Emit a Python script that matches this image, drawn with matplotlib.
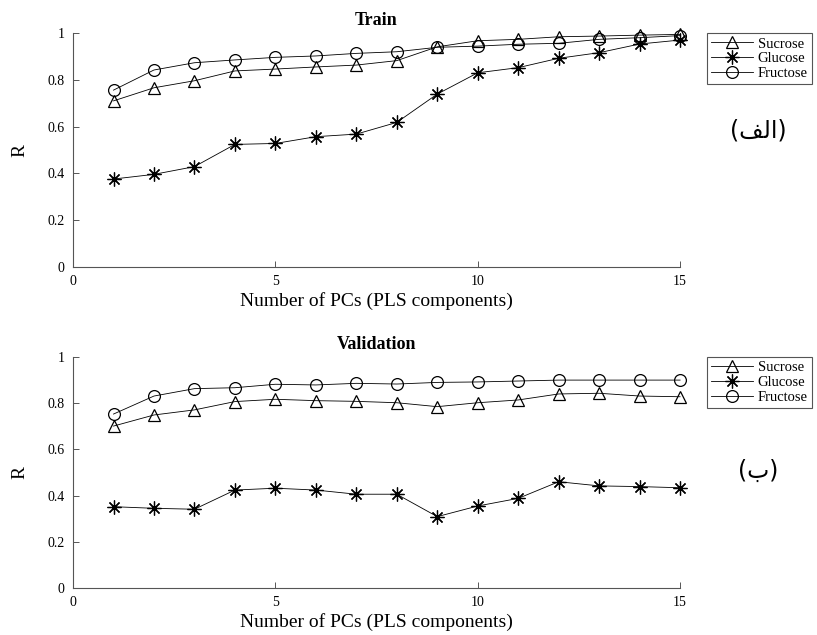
import matplotlib
matplotlib.use('Agg')
import matplotlib.pyplot as plt
from matplotlib.ticker import FuncFormatter

# number of PLS components
pcs = list(range(1, 16))

# Train
train_sucrose = [0.710, 0.766, 0.796, 0.838, 0.846, 0.855, 0.863, 0.882,
                 0.941, 0.967, 0.973, 0.984, 0.987, 0.991, 0.994]
train_glucose = [0.376, 0.396, 0.429, 0.524, 0.528, 0.557, 0.568, 0.618,
                 0.739, 0.830, 0.852, 0.892, 0.916, 0.953, 0.970]
train_fructose = [0.756, 0.842, 0.873, 0.885, 0.896, 0.902, 0.913, 0.920,
                  0.939, 0.944, 0.952, 0.956, 0.973, 0.980, 0.989]

# Validation
val_sucrose = [0.701, 0.749, 0.771, 0.807, 0.817, 0.811, 0.808, 0.802,
               0.785, 0.802, 0.814, 0.840, 0.843, 0.831, 0.828]
val_glucose = [0.352, 0.345, 0.341, 0.424, 0.432, 0.424, 0.406, 0.406,
               0.309, 0.355, 0.388, 0.460, 0.442, 0.439, 0.434]
val_fructose = [0.753, 0.831, 0.863, 0.867, 0.882, 0.879, 0.886, 0.883,
                0.890, 0.892, 0.896, 0.900, 0.900, 0.900, 0.900]

series_names = ['Sucrose', 'Glucose', 'Fructose']
panel_titles = ['Train', 'Validation']
# Arabic panel tags, written in display order with presentation forms
panel_tags = ['(\ufed2\ufedf\u0627)', '(\ufe8f)']

serif = 'Liberation Serif'
asterisk = (8, 2, 0)

fig = plt.figure(figsize=(8.17, 6.35), dpi=100)
ax1 = fig.add_axes([0.0894, 0.5795, 0.743, 0.3685])
ax2 = fig.add_axes([0.0894, 0.074, 0.743, 0.3638])

panels = [
    (ax1, [train_sucrose, train_glucose, train_fructose], 0.948, 0.795),
    (ax2, [val_sucrose, val_glucose, val_fructose], 0.438, 0.258),
]

for i, (ax, data, leg_y, tag_y) in enumerate(panels):
    ax.plot(pcs, data[0], color='k', lw=0.6, marker='^', ms=9,
            mfc='none', mec='k', mew=0.9, label=series_names[0], clip_on=False)
    ax.plot(pcs, data[1], color='k', lw=0.6, marker=asterisk, ms=10,
            mec='k', mew=0.9, label=series_names[1], clip_on=False)
    ax.plot(pcs, data[2], color='k', lw=0.6, marker='o', ms=8.5,
            mfc='none', mec='k', mew=0.9, label=series_names[2], clip_on=False)

    ax.set_xlim(0, 15)
    ax.set_ylim(0, 1)
    ax.set_xticks([0, 5, 10, 15])
    ax.set_yticks([0, 0.2, 0.4, 0.6, 0.8, 1])
    ax.yaxis.set_major_formatter(FuncFormatter(lambda v, p: '%g' % v))
    ax.spines['top'].set_visible(False)
    ax.spines['right'].set_visible(False)
    ax.spines['left'].set_color('#555555')
    ax.spines['bottom'].set_color('#555555')
    ax.tick_params(direction='in', length=4, width=0.7, color='#555555',
                   labelsize=10, pad=6)
    for lab in ax.get_xticklabels() + ax.get_yticklabels():
        lab.set_fontfamily(serif)

    ax.set_title(panel_titles[i], fontfamily=serif, fontweight='bold',
                 fontsize=13, pad=6)
    ax.set_xlabel('Number of PCs (PLS components)', fontfamily=serif,
                  fontsize=14, labelpad=3)
    ax.set_ylabel('R', fontfamily=serif, fontsize=14, labelpad=14)

    leg = ax.legend(loc='upper left', bbox_to_anchor=(0.865, leg_y),
                    bbox_transform=fig.transFigure, frameon=True,
                    fancybox=False, edgecolor='#555555', framealpha=1,
                    handlelength=2.9, handletextpad=0.3, borderpad=0.3,
                    labelspacing=0.1, borderaxespad=0,
                    prop={'family': serif, 'size': 10.5})
    leg.get_frame().set_linewidth(0.8)

    fig.text(0.928, tag_y, panel_tags[i], fontfamily='DejaVu Sans',
             fontsize=17, ha='center', va='center')

fig.savefig('out.png', dpi=100)
